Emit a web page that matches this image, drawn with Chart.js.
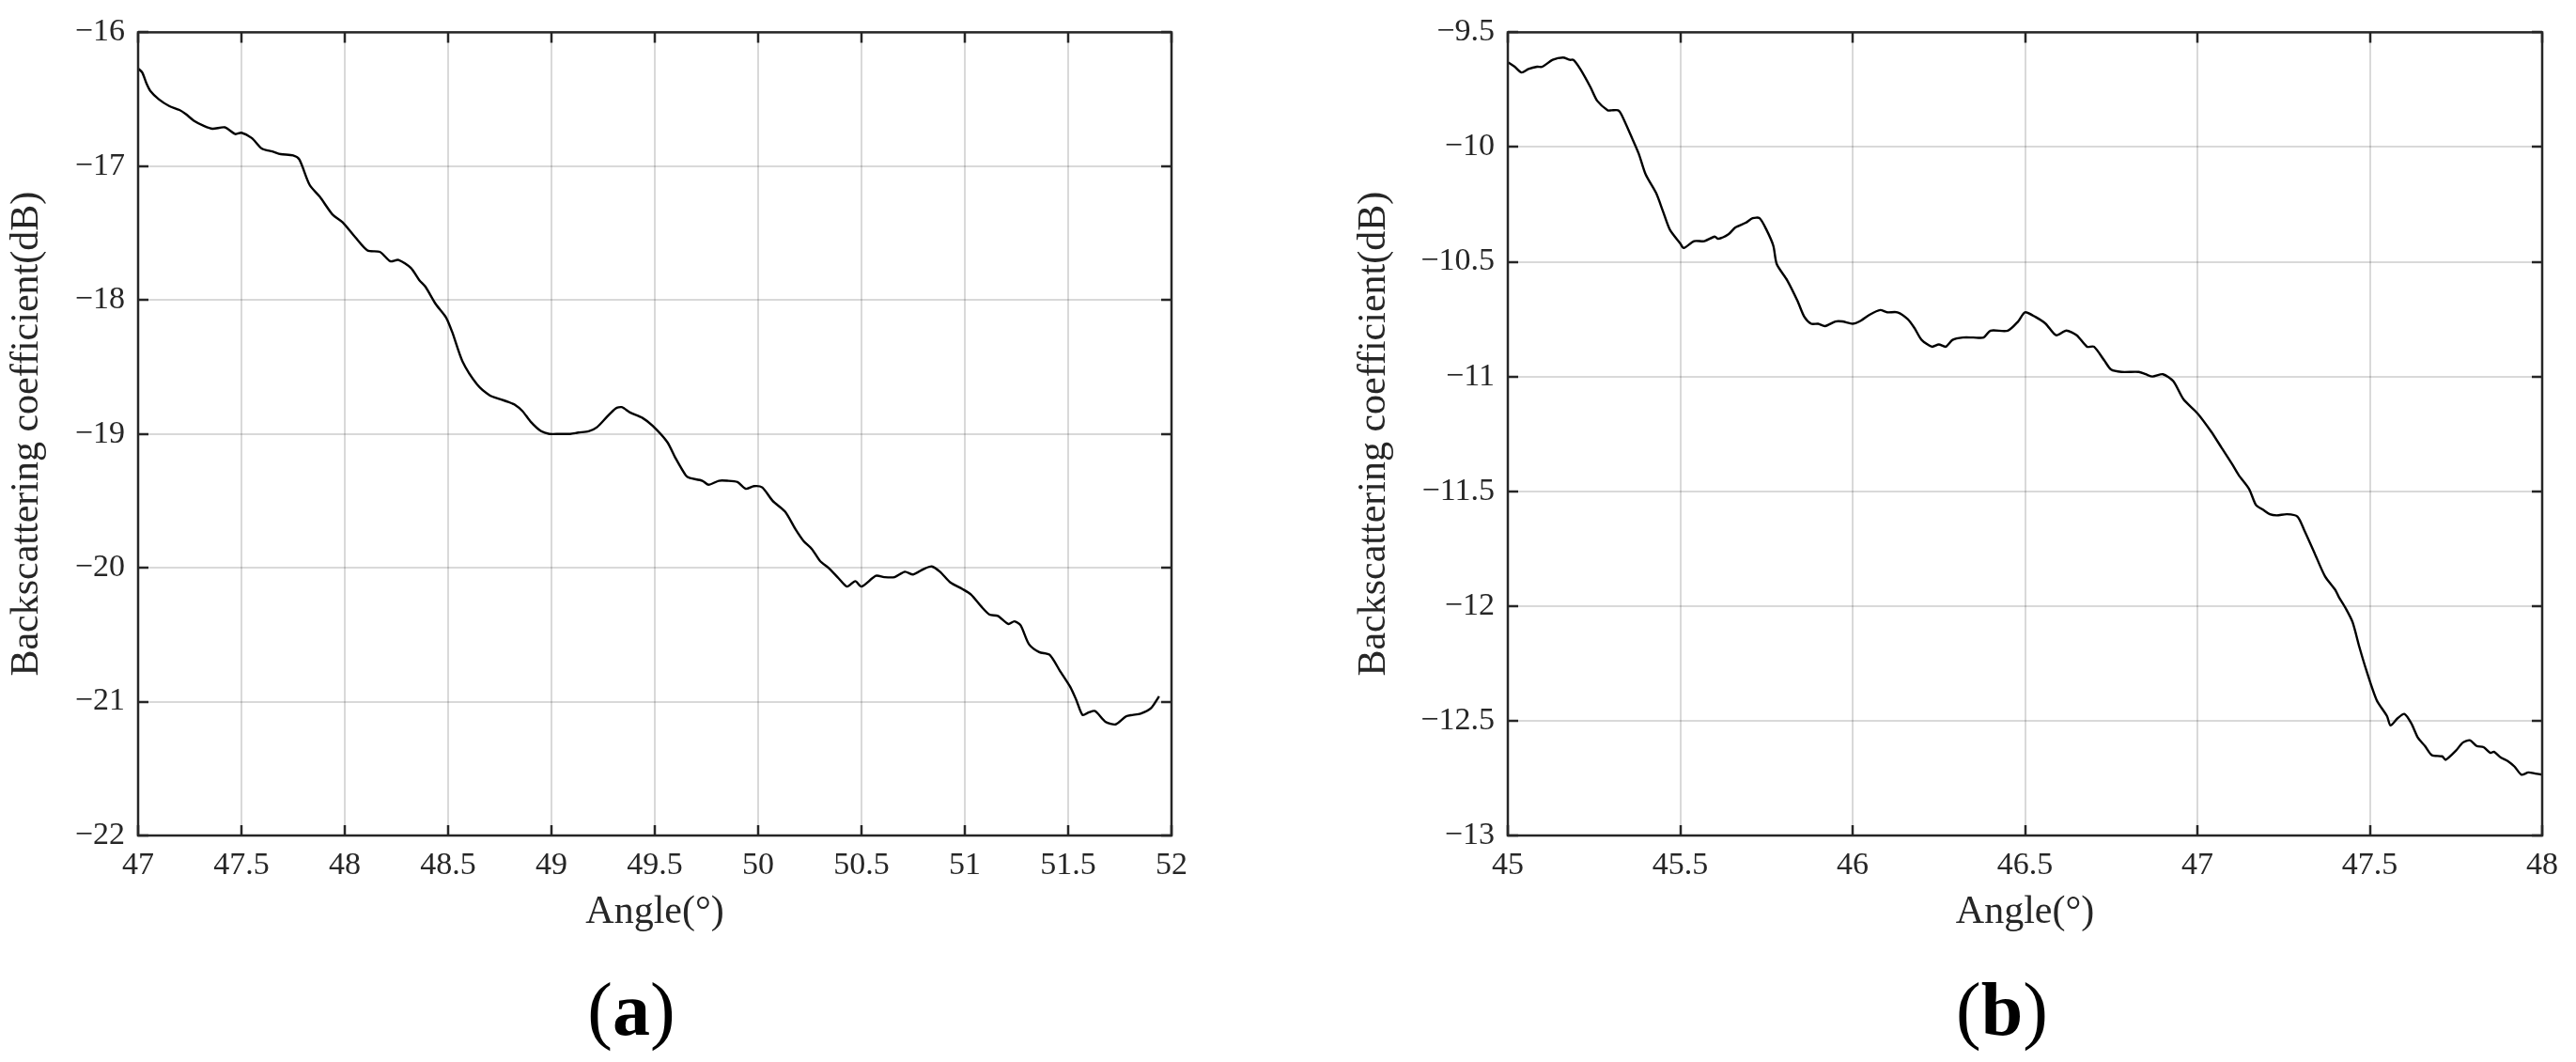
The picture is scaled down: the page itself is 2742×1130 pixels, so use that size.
<!DOCTYPE html>
<html>
<head>
<meta charset="utf-8">
<script src="https://cdn.jsdelivr.net/npm/chart.js@4.4.1/dist/chart.umd.min.js"></script>
<style>
	html, body { margin: 0; padding: 0; background: #fff; }
	body { width: 2742px; height: 1130px; position: relative; overflow: hidden; }
	canvas { position: absolute; top: 0; }
	.panel-label {
		position: absolute;
		top: 1074px;
		transform: translate(-50%, -50%);
		font-family: "Liberation Serif", serif;
		font-size: 80px;
		line-height: 1;
		color: #000;
		white-space: nowrap;
	}
</style>
</head>
<body>
<canvas id="chartA" width="1371" height="1130" style="left:0"></canvas>
<canvas id="chartB" width="1371" height="1130" style="left:1371px"></canvas>
<div class="panel-label" style="left:672px">(<b>a</b>)</div>
<div class="panel-label" style="left:2131px">(<b>b</b>)</div>
<script>
// panel (a)
const angleA = [
	47.00, 47.02, 47.04, 47.06, 47.10, 47.15, 47.20, 47.23, 47.27, 47.32,
	47.36, 47.42, 47.47, 47.50, 47.55, 47.60, 47.65, 47.69, 47.75, 47.78,
	47.83, 47.88, 47.94, 47.99, 48.05, 48.11, 48.17, 48.22, 48.26, 48.32,
	48.36, 48.39, 48.44, 48.49, 48.52, 48.57, 48.64, 48.70, 48.75, 48.79,
	48.82, 48.86, 48.90, 48.95, 48.99, 49.04, 49.09, 49.13, 49.18, 49.22,
	49.27, 49.31, 49.34, 49.38, 49.44, 49.49, 49.56, 49.60, 49.65, 49.67,
	49.73, 49.76, 49.81, 49.85, 49.90, 49.94, 49.98, 50.02, 50.07, 50.13,
	50.18, 50.22, 50.26, 50.30, 50.34, 50.39, 50.43, 50.47, 50.50, 50.57,
	50.61, 50.66, 50.71, 50.75, 50.80, 50.84, 50.88, 50.93, 50.99, 51.03,
	51.08, 51.12, 51.16, 51.21, 51.24, 51.27, 51.31, 51.36, 51.41, 51.46,
	51.51, 51.54, 51.57, 51.60, 51.63, 51.68, 51.73, 51.78, 51.81, 51.85,
	51.90, 51.94
];
const sigmaA = [
	-16.27, -16.30, -16.38, -16.44, -16.50, -16.55, -16.58, -16.61, -16.66, -16.70,
	-16.72, -16.71, -16.76, -16.75, -16.79, -16.87, -16.89, -16.91, -16.92, -16.95,
	-17.14, -17.23, -17.36, -17.42, -17.53, -17.63, -17.64, -17.71, -17.70, -17.76,
	-17.85, -17.90, -18.03, -18.13, -18.24, -18.46, -18.63, -18.71, -18.74, -18.76,
	-18.78, -18.83, -18.91, -18.98, -19.00, -19.00, -19.00, -18.99, -18.98, -18.95,
	-18.87, -18.81, -18.80, -18.84, -18.88, -18.94, -19.06, -19.18, -19.31, -19.33,
	-19.35, -19.38, -19.35, -19.35, -19.36, -19.41, -19.39, -19.40, -19.50, -19.58,
	-19.71, -19.80, -19.86, -19.95, -20.00, -20.08, -20.14, -20.10, -20.14, -20.06,
	-20.07, -20.07, -20.03, -20.05, -20.01, -19.99, -20.03, -20.11, -20.16, -20.20,
	-20.29, -20.35, -20.36, -20.42, -20.40, -20.43, -20.57, -20.63, -20.65, -20.77,
	-20.89, -20.99, -21.10, -21.08, -21.07, -21.15, -21.17, -21.11, -21.10, -21.09,
	-21.05, -20.96
];

// panel (b)
const angleB = [
	45.00, 45.02, 45.04, 45.06, 45.085, 45.10, 45.13, 45.16, 45.18, 45.19,
	45.21, 45.24, 45.26, 45.29, 45.30, 45.32, 45.33, 45.36, 45.38, 45.40,
	45.43, 45.45, 45.47, 45.50, 45.51, 45.54, 45.57, 45.60, 45.61, 45.64,
	45.66, 45.69, 45.71, 45.73, 45.75, 45.77, 45.78, 45.81, 45.84, 45.86,
	45.88, 45.90, 45.92, 45.95, 45.97, 46.00, 46.02, 46.05, 46.08, 46.10,
	46.13, 46.16, 46.18, 46.20, 46.23, 46.25, 46.27, 46.29, 46.32, 46.35,
	46.38, 46.40, 46.45, 46.48, 46.50, 46.53, 46.56, 46.59, 46.62, 46.65,
	46.68, 46.70, 46.73, 46.75, 46.78, 46.83, 46.85, 46.87, 46.90, 46.93,
	46.96, 47.00, 47.04, 47.07, 47.10, 47.12, 47.15, 47.17, 47.19, 47.21,
	47.23, 47.26, 47.29, 47.31, 47.34, 47.37, 47.40, 47.41, 47.43, 47.45,
	47.47, 47.49, 47.52, 47.55, 47.56, 47.58, 47.60, 47.62, 47.64, 47.66,
	47.68, 47.71, 47.72, 47.75, 47.77, 47.79, 47.81, 47.83, 47.85, 47.86,
	47.88, 47.90, 47.92, 47.94, 47.96, 47.98, 48.00
];
const sigmaB = [
	-9.63, -9.65, -9.675, -9.66, -9.65, -9.65, -9.62, -9.61, -9.62, -9.62,
	-9.66, -9.74, -9.80, -9.84, -9.84, -9.84, -9.86, -9.96, -10.03, -10.12,
	-10.20, -10.28, -10.36, -10.42, -10.44, -10.41, -10.41, -10.39, -10.40, -10.38,
	-10.35, -10.33, -10.31, -10.31, -10.36, -10.43, -10.51, -10.58, -10.67, -10.74,
	-10.77, -10.77, -10.78, -10.76, -10.76, -10.77, -10.76, -10.73, -10.71, -10.72,
	-10.72, -10.75, -10.79, -10.84, -10.87, -10.86, -10.87, -10.84, -10.83, -10.83,
	-10.83, -10.80, -10.80, -10.76, -10.72, -10.74, -10.77, -10.82, -10.80, -10.82,
	-10.87, -10.87, -10.93, -10.97, -10.98, -10.98, -10.99, -11.00, -10.99, -11.02,
	-11.10, -11.16, -11.24, -11.31, -11.38, -11.43, -11.49, -11.56, -11.58, -11.60,
	-11.605, -11.60, -11.61, -11.67, -11.77, -11.87, -11.93, -11.96, -12.01, -12.07,
	-12.18, -12.28, -12.41, -12.48, -12.52, -12.49, -12.47, -12.51, -12.575, -12.61,
	-12.65, -12.655, -12.67, -12.63, -12.595, -12.585, -12.61, -12.615, -12.64, -12.635,
	-12.66, -12.675, -12.70, -12.735, -12.725, -12.73, -12.735
];

const xTicksA = [47, 47.5, 48, 48.5, 49, 49.5, 50, 50.5, 51, 51.5, 52];
const yTicksA = [-22, -21, -20, -19, -18, -17, -16];
const xTicksB = [45, 45.5, 46, 46.5, 47, 47.5, 48];
const yTicksB = [-13, -12.5, -12, -11.5, -11, -10.5, -10, -9.5];

const axisColor = "#262626";
const serif = "'Liberation Serif', 'DejaVu Serif', serif";

function fmt(v) {
	const s = String(Math.round(v * 10) / 10);
	return s.replace("-", "\u2212");
}

// MATLAB style box with inward ticks on all four sides
const boxTicks = {
	id: "boxTicks",
	afterDatasetsDraw(chart) {
		const { ctx, chartArea: a, scales } = chart;
		const len = 11;
		ctx.save();
		ctx.strokeStyle = axisColor;
		ctx.lineWidth = 2.5;
		ctx.beginPath();
		scales.x.ticks.forEach((t) => {
			const px = Math.round(scales.x.getPixelForValue(t.value));
			ctx.moveTo(px, a.bottom);
			ctx.lineTo(px, a.bottom - len);
			ctx.moveTo(px, a.top);
			ctx.lineTo(px, a.top + len);
		});
		scales.y.ticks.forEach((t) => {
			const py = Math.round(scales.y.getPixelForValue(t.value));
			ctx.moveTo(a.left, py);
			ctx.lineTo(a.left + len, py);
			ctx.moveTo(a.right, py);
			ctx.lineTo(a.right - len, py);
		});
		ctx.stroke();
		ctx.strokeRect(a.left, a.top, a.right - a.left, a.bottom - a.top);
		ctx.restore();
	},
};

function makeChart(id, xs, ys, xTicks, yTicks, yWidth, padding) {
	const ctx = document.getElementById(id).getContext("2d");
	const points = xs.map((x, i) => ({ x: x, y: ys[i] }));
	return new Chart(ctx, {
		type: "line",
		data: {
			datasets: [
				{
					data: points,
					borderColor: "#000",
					borderWidth: 2.4,
					pointRadius: 0,
					tension: 0.25,
					fill: false,
				},
			],
		},
		options: {
			responsive: false,
			animation: false,
			devicePixelRatio: 1,
			layout: { padding: padding },
			plugins: { legend: { display: false }, tooltip: { enabled: false } },
			scales: {
				x: {
					type: "linear",
					min: xTicks[0],
					max: xTicks[xTicks.length - 1],
					afterBuildTicks: (scale) => {
						scale.ticks = xTicks.map((v) => ({ value: v }));
					},
					afterFit: (scale) => {
						scale.height = 111;
					},
					grid: { color: "rgba(0,0,0,0.15)", lineWidth: 2, drawTicks: false },
					border: { display: false },
					ticks: {
						padding: 12,
						color: axisColor,
						maxRotation: 0,
						font: { family: serif, size: 34 },
						callback: (v) => fmt(v),
					},
					title: {
						display: true,
						text: "Angle(°)",
						color: axisColor,
						font: { family: serif, size: 42 },
					},
				},
				y: {
					type: "linear",
					min: yTicks[0],
					max: yTicks[yTicks.length - 1],
					afterBuildTicks: (scale) => {
						scale.ticks = yTicks.map((v) => ({ value: v }));
					},
					afterFit: (scale) => {
						scale.width = yWidth;
					},
					grid: { color: "rgba(0,0,0,0.15)", lineWidth: 2, drawTicks: false },
					border: { display: false },
					ticks: {
						padding: 14,
						color: axisColor,
						font: { family: serif, size: 34 },
						callback: (v) => fmt(v),
					},
					title: {
						display: true,
						text: "Backscattering coefficient(dB)",
						color: axisColor,
						font: { family: serif, size: 42 },
					},
				},
			},
		},
		plugins: [boxTicks],
	});
}

makeChart("chartA", angleA, sigmaA, xTicksA, yTicksA, 147, { left: 0, top: 22, right: 124, bottom: 130 });
makeChart("chartB", angleB, sigmaB, xTicksB, yTicksB, 171, { left: 63, top: 22, right: 36, bottom: 130 });
</script>
</body>
</html>
